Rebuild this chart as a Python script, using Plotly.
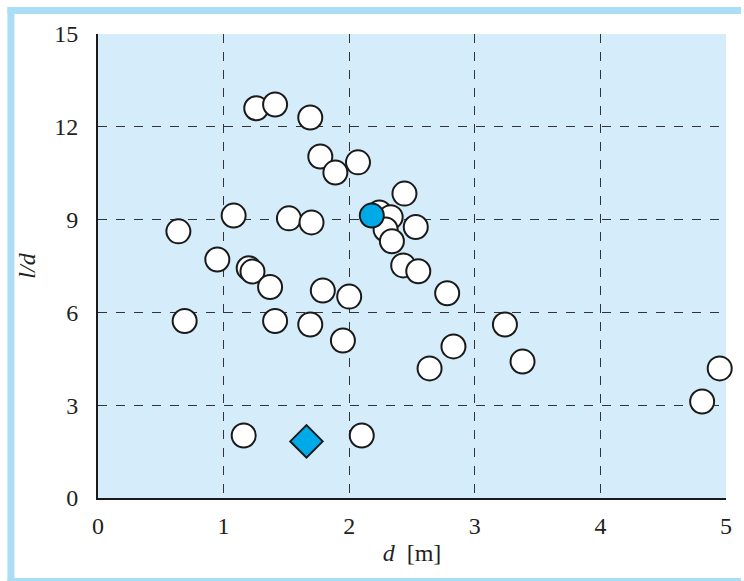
import plotly.graph_objects as go

# white circles (d [m], l/d)
d_white = [1.26, 1.41, 1.69, 1.77, 1.89, 2.07, 2.44, 2.24, 2.33, 2.29, 2.34, 2.53,
           2.43, 2.55, 2.78, 0.64, 1.08, 1.52, 1.70, 0.95, 1.20, 1.23, 1.37, 1.79,
           2.00, 0.69, 1.41, 1.69, 1.95, 3.24, 2.83, 2.64, 3.38, 4.95, 4.81, 1.16, 2.10]
ld_white = [12.6, 12.72, 12.3, 11.04, 10.52, 10.85, 9.84, 9.23, 9.08, 8.68, 8.30, 8.76,
            7.52, 7.33, 6.62, 8.62, 9.13, 9.04, 8.91, 7.71, 7.43, 7.32, 6.82, 6.71,
            6.51, 5.72, 5.72, 5.61, 5.09, 5.61, 4.90, 4.19, 4.41, 4.19, 3.12, 2.02, 2.02]
# highlighted circle
d_blue = [2.18]
ld_blue = [9.13]
# highlighted diamond
d_diamond = [1.66]
ld_diamond = [1.83]

x_ticks = [0, 1, 2, 3, 4, 5]
y_ticks = [0, 3, 6, 9, 12, 15]

BLUE = "#00A9E8"
FRAME = "#AADDF6"
font = "Liberation Serif, serif"

fig = go.Figure()
fig.add_trace(go.Scatter(x=d_white, y=ld_white, mode="markers", cliponaxis=False,
                         marker=dict(size=24, color="white", line=dict(color="#1a1a1a", width=2))))
fig.add_trace(go.Scatter(x=d_blue, y=ld_blue, mode="markers", cliponaxis=False,
                         marker=dict(size=24, color=BLUE, line=dict(color="#1a1a1a", width=2))))
fig.add_trace(go.Scatter(x=d_diamond, y=ld_diamond, mode="markers", cliponaxis=False,
                         marker=dict(symbol="diamond", size=25, color=BLUE,
                                     line=dict(color="#1a1a1a", width=2))))

axis_common = dict(showgrid=True, gridcolor="#333333", griddash="dash", gridwidth=1.2,
                   showline=True, linecolor="#1a1a1a", linewidth=2, zeroline=False,
                   ticks="", tickfont=dict(family=font, size=24, color="#231f20"))

# frame in pixel units converted to paper coords (plot area: x 98..729, y 34..498)
L, T, W, H = 98, 34, 631, 464
def px(x):
    return (x - L) / W
def py(y):
    return (T + H - y) / H

frame = [
    (7, 7, 744, 14),     # top bar
    (7, 7, 14, 581),     # left bar
    (7, 578, 744, 581),  # bottom bar
]
shapes = [dict(type="rect", xref="paper", yref="paper",
               x0=px(a), x1=px(c), y0=py(d), y1=py(b),
               line=dict(width=0), fillcolor=FRAME, layer="below") for a, b, c, d in frame]

fig.update_layout(
    width=744, height=581,
    margin=dict(l=L, r=744 - L - W, t=T, b=581 - T - H),
    paper_bgcolor="white", plot_bgcolor="#D5EDFA",
    showlegend=False,
    font=dict(family=font),
    xaxis=dict(range=[0, 5], tickvals=x_ticks, ticktext=[str(v) for v in x_ticks],
               ticklabelstandoff=5,
               title=dict(text="<i>d</i> &nbsp;[m]", font=dict(family=font, size=24, color="#231f20"),
                          standoff=6),
               **axis_common),
    yaxis=dict(range=[0, 15], tickvals=y_ticks, ticktext=[str(v) for v in y_ticks],
               ticklabelstandoff=13,
               title=dict(text="<i>l/d</i>", font=dict(family=font, size=24, color="#231f20"),
                          standoff=12),
               **axis_common),
    shapes=shapes,
)

fig.write_html("out.html", config={"displayModeBar": False},
               post_script="document.body.style.margin='0';document.body.style.overflow='hidden';")
